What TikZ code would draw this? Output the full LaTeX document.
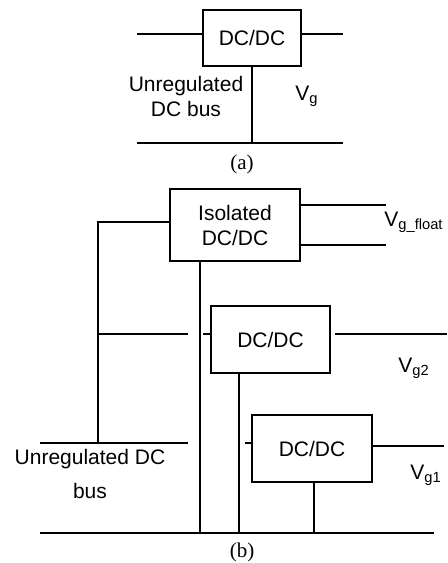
\documentclass[tikz,border=0pt]{standalone}
\usepackage{fontspec}
\setmainfont{Liberation Sans}
\newfontfamily\capfont{Liberation Serif}

\begin{document}
\begin{tikzpicture}[x=0.5pt, y=-0.5pt, line width=1.3pt,
    conv/.style={draw, align=center, inner sep=0pt, font=\fontsize{10.5}{12.5}\selectfont},
    lbl/.style={align=center, inner sep=0pt, font=\fontsize{10.5}{12.5}\selectfont},
    subcap/.style={inner sep=0pt, font=\capfont\fontsize{10.5}{12.5}\selectfont}]
    \useasboundingbox (0,0) rectangle (447,563);
    \node (dca) at (252,38) [conv, minimum width=49pt, minimum height=28pt] {DC/DC};
    \coordinate (ainl) at (137,34);
    \coordinate (aoutr) at (343,34);
    \coordinate (abl) at (137,143);
    \coordinate (abr) at (343,143);
    \draw (ainl) -- (ainl -| dca.west);
    \draw (dca.east |- aoutr) -- (aoutr);
    \draw (abl) -- (abr);
    \draw (dca.south) -- (dca.south |- abl);
    \node (busa) at (186,96) [lbl] {Unregulated\\DC bus};
    \node (vga) at (307,96) [lbl] {V\textsubscript{g}};
    \node (capa) at (242,164) [subcap] {(a)};
    \node (iso) at (235,225) [conv, minimum width=65pt, minimum height=36pt] {Isolated\\DC/DC};
    \node (dc2) at (270.5,339.5) [conv, minimum width=59.5pt, minimum height=33.5pt] {DC/DC};
    \node (dc1) at (312,448.5) [conv, minimum width=60pt, minimum height=33.5pt] {DC/DC};
    \coordinate (corner) at (98,222);
    \coordinate (bus) at (98,443);
    \coordinate (busl) at (40,443);
    \coordinate (busr) at (188,443);
    \coordinate (tap2) at (188,334);
    \coordinate (stub2) at (203,334);
    \coordinate (stub1) at (245,443);
    \coordinate (flt) at (386,205);
    \coordinate (flb) at (386,245);
    \coordinate (o2) at (335,334);
    \coordinate (o2e) at (447,334);
    \coordinate (o1e) at (444,446);
    \coordinate (gl) at (40,533);
    \coordinate (gr) at (434,533);
    \coordinate (g1) at (200,533);
    \coordinate (g2) at (239,533);
    \coordinate (g3) at (314,533);
    \draw (iso.west |- corner) -- (corner) -- (bus);
    \draw (busl) -- (busr);
    \draw (bus |- tap2) -- (tap2);
    \draw (stub2) -- (stub2 -| dc2.west);
    \draw (stub1) -- (stub1 -| dc1.west);
    \draw (iso.east |- flt) -- (flt);
    \draw (iso.east |- flb) -- (flb);
    \draw (o2) -- (o2e);
    \draw (dc1.east |- o1e) -- (o1e);
    \draw (iso.south -| g1) -- (g1);
    \draw (dc2.south -| g2) -- (g2);
    \draw (dc1.south -| g3) -- (g3);
    \draw (gl) -- (gr);
    \node (vgf) at (414,222) [lbl] {V\textsubscript{g\_float}};
    \node (vg2) at (414,368) [lbl] {V\textsubscript{g2}};
    \node (vg1) at (426,475) [lbl] {V\textsubscript{g1}};
    \node (busb) at (90,474) [lbl, font=\fontsize{10.5}{17}\selectfont] {Unregulated DC\\bus};
    \node (capb) at (242,552) [subcap] {(b)};
\end{tikzpicture}
\end{document}
